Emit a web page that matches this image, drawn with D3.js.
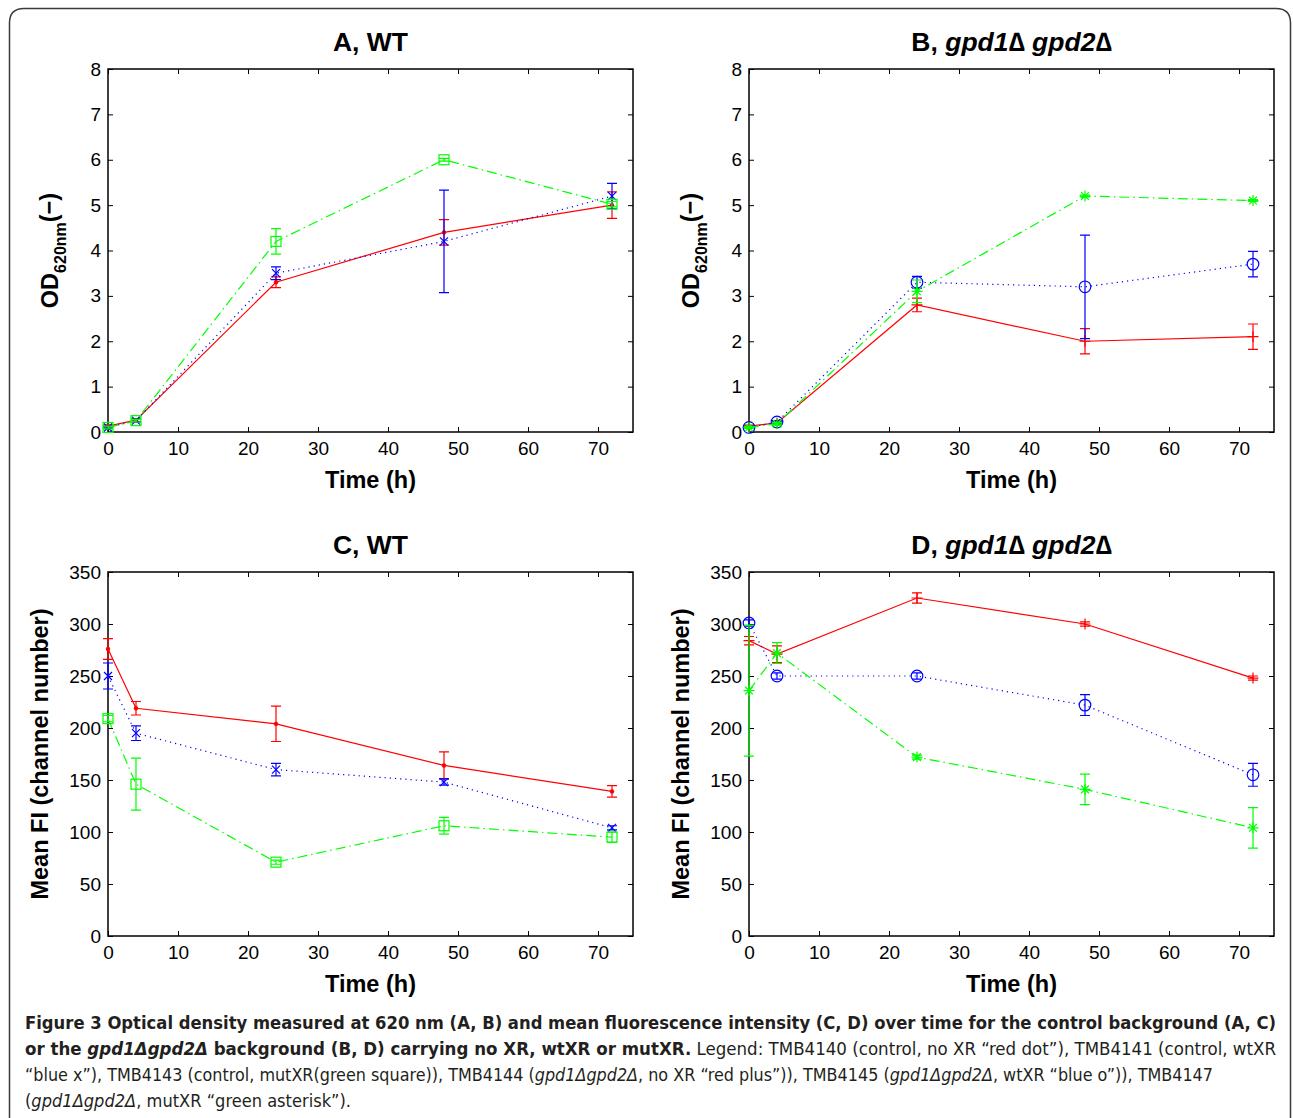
<!DOCTYPE html>
<html>
<head>
<meta charset="utf-8">
<script src="https://cdn.jsdelivr.net/npm/d3@7"></script>
<style>
  body { margin: 0; background: #fff; }
  svg text { font-family: "Liberation Sans", Arial, Helvetica, sans-serif; }
  .caption text { font-family: "Liberation Sans Narrow", "DejaVu Sans Condensed", "Open Sans", sans-serif; fill: #231f20; }
</style>
</head>
<body>
<svg id="fig" width="1293" height="1118"></svg>
<script>
// sampling times (h)
const hours = [0, 4, 24, 48, 72];
const timeTicks = [0, 10, 20, 30, 40, 50, 60, 70];
const odTicks = [0, 1, 2, 3, 4, 5, 6, 7, 8];
const fiTicks = [0, 50, 100, 150, 200, 250, 300, 350];

// A: OD620, WT background
const odWtNoXR = [0.13, 0.26, 3.3, 4.4, 5.0];
const odWtNoXRErr = [0.02, 0.03, 0.12, 0.28, 0.29];
const odWtWtXR = [0.1, 0.25, 3.5, 4.2, 5.2];
const odWtWtXRErr = [0.02, 0.03, 0.14, 1.13, 0.28];
const odWtMutXR = [0.1, 0.25, 4.2, 6.0, 5.02];
const odWtMutXRErr = [0.03, 0.03, 0.28, 0.03, 0.06];

// B: OD620, gpd1Δ gpd2Δ background
const odGpdNoXR = [0.13, 0.2, 2.8, 2.0, 2.1];
const odGpdNoXRErr = [0.02, 0.03, 0.15, 0.28, 0.28];
const odGpdWtXR = [0.1, 0.22, 3.3, 3.2, 3.7];
const odGpdWtXRErr = [0.02, 0.03, 0.13, 1.14, 0.28];
const odGpdMutXR = [0.1, 0.18, 3.1, 5.2, 5.1];
const odGpdMutXRErr = [0.02, 0.03, 0.25, 0.02, 0.02];

// C: mean FI, WT background
const fiWtNoXR = [276, 219, 204, 164, 139];
const fiWtNoXRErr = [10, 6.5, 17, 13, 5.5];
const fiWtWtXR = [250, 195, 160, 148, 104];
const fiWtWtXRErr = [12.5, 7, 6, 3, 2];
const fiWtMutXR = [209, 146, 71, 106, 95];
const fiWtMutXRErr = [3, 25, 2, 8, 5];

// D: mean FI, gpd1Δ gpd2Δ background
const fiGpdNoXR = [284, 271, 325, 300, 248];
const fiGpdNoXRErr = [4, 8, 5, 2, 2];
const fiGpdWtXR = [301, 250, 250, 222, 155];
const fiGpdWtXRErr = [3, 3, 3, 10, 11];
const fiGpdMutXR = [236, 272, 172, 141, 104];
const fiGpdMutXRErr = [63, 10, 2, 14.6, 19.5];

const RED = "#ff0000", BLUE = "#0000ff", GREEN = "#00ff00";
const styles = {
  solid: null,
  dotted: "1.2,4",
  dashdot: "10,4,1.5,4"
};

const svg = d3.select("#fig");

// outer rounded frame
svg.append("path")
  .attr("d", "M9.5,1118 V23 Q9.5,8.5 24,8.5 H1276 Q1290.5,8.5 1290.5,23 V1118")
  .attr("fill", "none")
  .attr("stroke", "#3a3a3a")
  .attr("stroke-width", 1.5);

const markerPath = {
  x: s => `M${-s},${-s}L${s},${s}M${-s},${s}L${s},${-s}`,
  plus: s => `M${-s},0H${s}M0,${-s}V${s}`,
  star: s => `M${-s},0H${s}M0,${-s}V${s}M${-s * 0.7},${-s * 0.7}L${s * 0.7},${s * 0.7}M${-s * 0.7},${s * 0.7}L${s * 0.7},${-s * 0.7}`
};

function drawPanel(p) {
  const g = svg.append("g");
  const x = d3.scaleLinear().domain([0, 75]).range([p.left, p.right]);
  const y = d3.scaleLinear().domain([0, p.yMax]).range([p.bottom, p.top]);

  // axes: ticks inside on all four sides
  g.append("g")
    .attr("transform", `translate(0,${p.bottom})`)
    .call(d3.axisBottom(x).tickValues(timeTicks).tickSize(-5).tickSizeOuter(0).tickPadding(10))
    .call(a => a.select(".domain").remove())
    .call(a => a.selectAll("text").attr("font-size", 19).attr("fill", "#000"));
  g.append("g")
    .attr("transform", `translate(0,${p.top})`)
    .call(d3.axisTop(x).tickValues(timeTicks).tickSize(-5).tickSizeOuter(0).tickFormat(""))
    .call(a => a.select(".domain").remove());
  g.append("g")
    .attr("transform", `translate(${p.left},0)`)
    .call(d3.axisLeft(y).tickValues(p.yTicks).tickSize(-5).tickSizeOuter(0).tickPadding(7))
    .call(a => a.select(".domain").remove())
    .call(a => a.selectAll("text").attr("font-size", 19).attr("fill", "#000"));
  g.append("g")
    .attr("transform", `translate(${p.right},0)`)
    .call(d3.axisRight(y).tickValues(p.yTicks).tickSize(-5).tickSizeOuter(0).tickFormat(""))
    .call(a => a.select(".domain").remove());
  g.selectAll(".tick line").attr("stroke", "#000").attr("stroke-width", 1);

  g.append("rect")
    .attr("x", p.left).attr("y", p.top)
    .attr("width", p.right - p.left).attr("height", p.bottom - p.top)
    .attr("fill", "none").attr("stroke", "#000").attr("stroke-width", 1.5);

  // title
  const t = g.append("text")
    .attr("x", (p.left + p.right) / 2).attr("y", p.top - 18)
    .attr("text-anchor", "middle").attr("font-size", 26.5).attr("font-weight", "bold");
  p.title.forEach(([txt, it]) => t.append("tspan").attr("font-style", it ? "italic" : "normal").text(txt));

  // x label
  g.append("text")
    .attr("x", (p.left + p.right) / 2).attr("y", p.bottom + 56)
    .attr("text-anchor", "middle").attr("font-size", 23.5).attr("font-weight", "bold")
    .text("Time (h)");

  // y label
  const yl = g.append("text")
    .attr("transform", `translate(${p.left - p.yLabelOff},${(p.top + p.bottom) / 2}) rotate(-90)`)
    .attr("text-anchor", "middle").attr("font-size", 23.5).attr("font-weight", "bold");
  if (p.yLabel === "od") {
    yl.append("tspan").text("OD");
    yl.append("tspan").attr("dy", 8).attr("font-size", 16).text("620nm");
    yl.append("tspan").attr("dy", -9).text("(−)");
  } else {
    yl.text("Mean FI (channel number)");
  }

  const line = d3.line().x(d => x(d.t)).y(d => y(d.v));

  p.series.forEach(s => {
    const pts = hours.map((t, i) => ({ t, v: s.values[i], e: s.errors[i] }));
    const sg = g.append("g").attr("stroke", s.color).attr("fill", "none");

    // error bars
    pts.forEach(d => {
      const x0 = x(d.t), yHi = y(d.v + d.e), yLo = y(d.v - d.e);
      sg.append("path")
        .attr("d", `M${x0},${yHi}V${yLo}M${x0 - 5},${yHi}H${x0 + 5}M${x0 - 5},${yLo}H${x0 + 5}`)
        .attr("stroke-width", 1.2);
    });

    sg.append("path")
      .datum(pts)
      .attr("d", line)
      .attr("stroke-width", 1.2)
      .attr("stroke-dasharray", styles[s.dash]);

    pts.forEach(d => {
      const cx = x(d.t), cy = y(d.v);
      if (s.marker === "dot") {
        sg.append("circle").attr("cx", cx).attr("cy", cy).attr("r", 2.2).attr("fill", s.color).attr("stroke", "none");
      } else if (s.marker === "square") {
        sg.append("rect").attr("x", cx - 5).attr("y", cy - 5).attr("width", 10).attr("height", 10).attr("stroke-width", 1.2);
      } else if (s.marker === "circle") {
        sg.append("circle").attr("cx", cx).attr("cy", cy).attr("r", 5.8).attr("stroke-width", 1.2);
      } else {
        sg.append("path").attr("transform", `translate(${cx},${cy})`)
          .attr("d", markerPath[s.marker](s.marker === "x" ? 4 : 5.5)).attr("stroke-width", 1.2);
      }
    });
  });
}

const gpdTitle = [["gpd1", true], ["∆ ", false], ["gpd2", true], ["∆", false]];

drawPanel({
  left: 108, right: 633, top: 69, bottom: 432, yMax: 8, yTicks: odTicks,
  title: [["A, WT", false]], yLabel: "od", yLabelOff: 50,
  series: [
    { color: RED, marker: "dot", dash: "solid", values: odWtNoXR, errors: odWtNoXRErr },
    { color: BLUE, marker: "x", dash: "dotted", values: odWtWtXR, errors: odWtWtXRErr },
    { color: GREEN, marker: "square", dash: "dashdot", values: odWtMutXR, errors: odWtMutXRErr }
  ]
});

drawPanel({
  left: 749, right: 1274, top: 69, bottom: 432, yMax: 8, yTicks: odTicks,
  title: [["B, ", false], ...gpdTitle], yLabel: "od", yLabelOff: 50,
  series: [
    { color: RED, marker: "plus", dash: "solid", values: odGpdNoXR, errors: odGpdNoXRErr },
    { color: BLUE, marker: "circle", dash: "dotted", values: odGpdWtXR, errors: odGpdWtXRErr },
    { color: GREEN, marker: "star", dash: "dashdot", values: odGpdMutXR, errors: odGpdMutXRErr }
  ]
});

drawPanel({
  left: 108, right: 633, top: 572, bottom: 936, yMax: 350, yTicks: fiTicks,
  title: [["C, WT", false]], yLabel: "fi", yLabelOff: 60,
  series: [
    { color: RED, marker: "dot", dash: "solid", values: fiWtNoXR, errors: fiWtNoXRErr },
    { color: BLUE, marker: "x", dash: "dotted", values: fiWtWtXR, errors: fiWtWtXRErr },
    { color: GREEN, marker: "square", dash: "dashdot", values: fiWtMutXR, errors: fiWtMutXRErr }
  ]
});

drawPanel({
  left: 749, right: 1274, top: 572, bottom: 936, yMax: 350, yTicks: fiTicks,
  title: [["D, ", false], ...gpdTitle], yLabel: "fi", yLabelOff: 60,
  series: [
    { color: RED, marker: "plus", dash: "solid", values: fiGpdNoXR, errors: fiGpdNoXRErr },
    { color: BLUE, marker: "circle", dash: "dotted", values: fiGpdWtXR, errors: fiGpdWtXRErr },
    { color: GREEN, marker: "star", dash: "dashdot", values: fiGpdMutXR, errors: fiGpdMutXRErr }
  ]
});

// caption
const cap = svg.append("g").attr("class", "caption").attr("font-size", 18);
const capLines = [
  { y: 1029, len: 1251, parts: [["b", "Figure 3 Optical density measured at 620 nm (A, B) and mean fluorescence intensity (C, D) over time for the control background (A, C)"]] },
  { y: 1055, len: 1251, parts: [["b", "or the "], ["bi", "gpd1Δgpd2Δ"], ["b", " background (B, D) carrying no XR, wtXR or mutXR."], ["n", " Legend: TMB4140 (control, no XR “red dot”), TMB4141 (control, wtXR"]] },
  { y: 1081, len: 1188, parts: [["n", "“blue x”), TMB4143 (control, mutXR(green square)), TMB4144 ("], ["i", "gpd1Δgpd2Δ"], ["n", ", no XR “red plus”)), TMB4145 ("], ["i", "gpd1Δgpd2Δ"], ["n", ", wtXR “blue o”)), TMB4147"]] },
  { y: 1107, len: 326, parts: [["n", "("], ["i", "gpd1Δgpd2Δ"], ["n", ", mutXR “green asterisk”)."]] }
];
capLines.forEach(l => {
  const txt = cap.append("text").attr("x", 25).attr("y", l.y)
    .attr("textLength", l.len).attr("lengthAdjust", "spacingAndGlyphs");
  l.parts.forEach(([st, s]) => {
    txt.append("tspan")
      .attr("font-weight", st.includes("b") ? "bold" : "normal")
      .attr("font-style", st.includes("i") ? "italic" : "normal")
      .text(s);
  });
});
</script>
</body>
</html>
